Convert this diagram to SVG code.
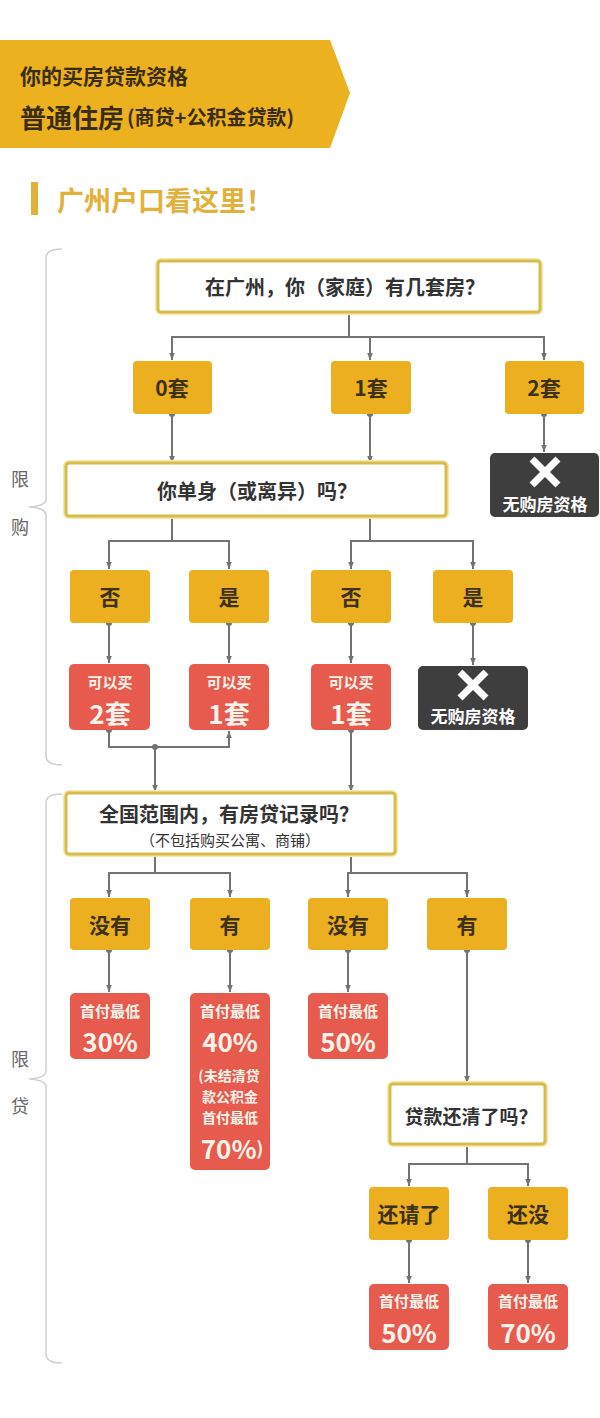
<svg xmlns="http://www.w3.org/2000/svg" width="600" height="1418" viewBox="0 0 600 1418">
<style>
text{font-family:"Noto Sans CJK SC","Noto Sans",sans-serif;dominant-baseline:central;text-anchor:middle}
.gold{fill:#ECAF1F}
.red{fill:#E65B4D}
.dark{fill:#3E3E3E}
.qbox{fill:#FFFFFF;stroke:#D6BC4C;stroke-width:3}
.qglow{fill:none;stroke:#F6EAA8;stroke-width:6}
.qt{font-size:20px;font-weight:700;fill:#333333}
.gt{font-size:21px;font-weight:700;fill:#3D3118}
.rs{font-size:15px;font-weight:700;fill:#FFF3EA}
.rn{font-size:14px;font-weight:700;fill:#FFF3EA}
.rb{font-size:26px;font-weight:700;fill:#FFF3EA}
.dt{font-size:17px;font-weight:700;fill:#FFFFFF}
.side{font-size:18px;fill:#666666;font-weight:400}
.brace{fill:none;stroke:#CFCFCF;stroke-width:1.5}
.cross{stroke:#FFFFFF;stroke-width:7;stroke-linecap:butt}
.conn path{fill:none;stroke:#737373;stroke-width:2;marker-start:url(#dot);marker-end:url(#arr)}
</style>
<defs>
<marker id="arr" viewBox="0 0 10 10" refX="10" refY="5" markerWidth="7" markerHeight="7" markerUnits="userSpaceOnUse" orient="auto">
<path d="M0,1 L10,5 L0,9 z" fill="#737373"/>
</marker>
<marker id="dot" viewBox="0 0 10 10" refX="5" refY="5" markerWidth="6" markerHeight="6" markerUnits="userSpaceOnUse" orient="auto">
<circle cx="5" cy="5" r="5" fill="#737373"/>
</marker>
</defs>
<rect x="0" y="0" width="600" height="1418" fill="#FFFFFF"/>

<g id="header">
<polygon points="0,40 330,40 350,93 330,148 0,148" fill="#EBB11E"/>
<text x="20" y="75" style="text-anchor:start;font-size:21px;font-weight:700;fill:#3A2D0F">你的买房贷款资格</text>
<text x="20" y="116" style="text-anchor:start;font-size:26px;font-weight:700;fill:#3A2D0F">普通住房<tspan style="font-size:20px" dx="3">(商贷+公积金贷款)</tspan></text>
</g>
<g id="subtitle">
<rect x="31" y="182" width="7" height="33" fill="#E2B13C"/>
<text x="57" y="199" style="text-anchor:start;font-size:27px;font-weight:700;fill:#E2B13C">广州户口看这里！</text>
</g>

<g id="brace-xiangou">
<path class="brace" d="M62,249 Q46,249 46,258 L46,499 Q46,506 29,507 Q46,508 46,515 L46,756 Q46,765 62,765"/>
<text class="side" x="20" y="478">限</text>
<text class="side" x="20" y="526">购</text>
</g>
<g id="brace-xiandai">
<path class="brace" d="M62,794 Q46,794 46,803 L46,1071 Q46,1078 29,1079 Q46,1080 46,1087 L46,1354 Q46,1363 62,1363"/>
<text class="side" x="20" y="1058">限</text>
<text class="side" x="20" y="1105">贷</text>
</g>

<g class="conn" id="connectors">
<path d="M349,312 V337 H172 V360"/>
<path d="M349,312 V337 H370 V360"/>
<path d="M349,312 V337 H544 V360"/>
<path d="M172,414 V463"/>
<path d="M370,414 V463"/>
<path d="M544,414 V452"/>
<path d="M172,516 V541 H109 V569"/>
<path d="M172,516 V541 H229 V569"/>
<path d="M370,516 V541 H351 V569"/>
<path d="M370,516 V541 H473 V569"/>
<path d="M109,623 V663"/>
<path d="M229,623 V663"/>
<path d="M351,623 V663"/>
<path d="M473,623 V665"/>
<path d="M109,730 V747 H229 V731"/>
<path d="M155,747 V792"/>
<path d="M351,730 V792"/>
<path d="M155,854 V873 H109 V897"/>
<path d="M155,854 V873 H230 V897"/>
<path d="M351,854 V873 H348 V897"/>
<path d="M351,854 V873 H467 V897"/>
<path d="M109,950 V992"/>
<path d="M230,950 V992"/>
<path d="M348,950 V992"/>
<path d="M467,950 V1083"/>
<path d="M467,1144 V1164 H409 V1186"/>
<path d="M467,1144 V1164 H528 V1186"/>
<path d="M409,1240 V1283"/>
<path d="M528,1240 V1283"/>
</g>

<g id="q-houses">
<rect class="qglow" x="158" y="261" width="382" height="51" rx="3"/>
<rect class="qbox" x="158" y="261" width="382" height="51" rx="3"/>
<text class="qt" x="345" y="286">在广州，你（家庭）有几套房？</text>
</g>
<g id="n-0tao"><rect class="gold" x="133" y="361" width="79" height="53" rx="4"/><text class="gt" x="172" y="387">0套</text></g>
<g id="n-1tao"><rect class="gold" x="331" y="361" width="80" height="53" rx="4"/><text class="gt" x="371" y="387">1套</text></g>
<g id="n-2tao"><rect class="gold" x="505" y="361" width="79" height="53" rx="4"/><text class="gt" x="544" y="387">2套</text></g>
<g id="n-noqual1">
<rect class="dark" x="490" y="453" width="109" height="64" rx="5"/>
<path class="cross" d="M532,459 L558,485 M558,459 L532,485"/>
<text class="dt" x="545" y="503">无购房资格</text>
</g>

<g id="q-single">
<rect class="qglow" x="66" y="463" width="380" height="53" rx="3"/>
<rect class="qbox" x="66" y="463" width="380" height="53" rx="3"/>
<text class="qt" x="257" y="490">你单身（或离异）吗？</text>
</g>
<g id="n-fou1"><rect class="gold" x="70" y="570" width="80" height="53" rx="4"/><text class="gt" x="110" y="596">否</text></g>
<g id="n-shi1"><rect class="gold" x="189" y="570" width="80" height="53" rx="4"/><text class="gt" x="229" y="596">是</text></g>
<g id="n-fou2"><rect class="gold" x="311" y="570" width="80" height="53" rx="4"/><text class="gt" x="351" y="596">否</text></g>
<g id="n-shi2"><rect class="gold" x="433" y="570" width="80" height="53" rx="4"/><text class="gt" x="473" y="596">是</text></g>

<g id="r-buy2"><rect class="red" x="69" y="664" width="81" height="66" rx="5"/><text class="rs" x="110" y="681">可以买</text><text class="rb" x="110" y="712">2套</text></g>
<g id="r-buy1a"><rect class="red" x="189" y="664" width="80" height="66" rx="5"/><text class="rs" x="229" y="681">可以买</text><text class="rb" x="229" y="712">1套</text></g>
<g id="r-buy1b"><rect class="red" x="311" y="664" width="80" height="66" rx="5"/><text class="rs" x="351" y="681">可以买</text><text class="rb" x="351" y="712">1套</text></g>
<g id="n-noqual2">
<rect class="dark" x="418" y="666" width="110" height="64" rx="5"/>
<path class="cross" d="M460,672 L486,698 M486,672 L460,698"/>
<text class="dt" x="473" y="715">无购房资格</text>
</g>

<g id="q-record">
<rect class="qglow" x="66" y="793" width="329" height="61" rx="3"/>
<rect class="qbox" x="66" y="793" width="329" height="61" rx="3"/>
<text class="qt" x="229" y="813">全国范围内，有房贷记录吗？</text>
<text x="230" y="839" style="font-size:15px;fill:#333333;font-weight:400">（不包括购买公寓、商铺）</text>
</g>
<g id="n-meiyou1"><rect class="gold" x="70" y="898" width="80" height="52" rx="4"/><text class="gt" x="110" y="924">没有</text></g>
<g id="n-you1"><rect class="gold" x="190" y="898" width="80" height="52" rx="4"/><text class="gt" x="230" y="924">有</text></g>
<g id="n-meiyou2"><rect class="gold" x="308" y="898" width="80" height="52" rx="4"/><text class="gt" x="348" y="924">没有</text></g>
<g id="n-you2"><rect class="gold" x="427" y="898" width="80" height="52" rx="4"/><text class="gt" x="467" y="924">有</text></g>

<g id="r-30"><rect class="red" x="70" y="993" width="80" height="66" rx="5"/><text class="rs" x="110" y="1010">首付最低</text><text class="rb" x="110" y="1040">30%</text></g>
<g id="r-40">
<rect class="red" x="190" y="993" width="80" height="177" rx="5"/>
<text class="rs" x="230" y="1010">首付最低</text>
<text class="rb" x="230" y="1040">40%</text>
<text class="rn" x="229" y="1075">(未结清贷</text>
<text class="rn" x="230" y="1096">款公积金</text>
<text class="rn" x="230" y="1117">首付最低</text>
<text class="rb" x="232" y="1147">70%<tspan style="font-size:18px">)</tspan></text>
</g>
<g id="r-50a"><rect class="red" x="308" y="993" width="80" height="66" rx="5"/><text class="rs" x="348" y="1010">首付最低</text><text class="rb" x="348" y="1040">50%</text></g>

<g id="q-paid">
<rect class="qglow" x="390" y="1084" width="155" height="60" rx="3"/>
<rect class="qbox" x="390" y="1084" width="155" height="60" rx="3"/>
<text class="qt" x="471" y="1115" style="font-size:19px">贷款还清了吗？</text>
</g>
<g id="n-paid"><rect class="gold" x="369" y="1187" width="80" height="53" rx="4"/><text class="gt" x="409" y="1213">还请了</text></g>
<g id="n-notpaid"><rect class="gold" x="488" y="1187" width="80" height="53" rx="4"/><text class="gt" x="528" y="1213">还没</text></g>
<g id="r-50b"><rect class="red" x="369" y="1284" width="80" height="66" rx="5"/><text class="rs" x="409" y="1300">首付最低</text><text class="rb" x="409" y="1331">50%</text></g>
<g id="r-70"><rect class="red" x="488" y="1284" width="80" height="66" rx="5"/><text class="rs" x="528" y="1300">首付最低</text><text class="rb" x="528" y="1331">70%</text></g>
</svg>
